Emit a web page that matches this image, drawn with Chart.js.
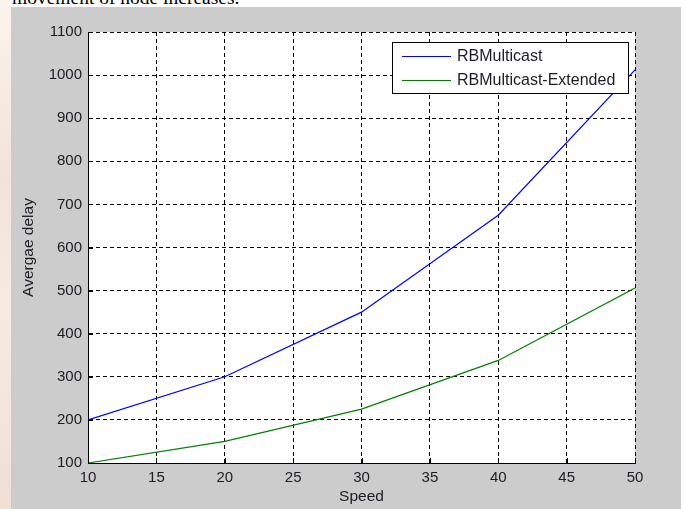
<!DOCTYPE html>
<html>
<head>
<meta charset="utf-8">
<script src="https://cdn.jsdelivr.net/npm/chart.js@4/dist/chart.umd.min.js"></script>
<style>
  body { margin: 0; background: #fff; width: 686px; height: 509px; overflow: hidden; position: relative; }
  #strip { position: absolute; left: 0; top: 0; width: 11px; height: 509px;
           background: linear-gradient(180deg, #fbf4ee 0%, #f2e3d8 35%, #f6ebe2 60%, #f0e0d4 100%); }
  #caption { position: absolute; left: 12px; top: -12px; font-family: "Liberation Serif", "Times New Roman", serif;
             font-size: 19.5px; line-height: 20px; color: #000; white-space: nowrap; }
  #panel { position: absolute; left: 11px; top: 7px; width: 670px; height: 502px; background: #cccccc; }
</style>
</head>
<body>
<div id="strip"></div>
<div id="caption">movement of node increases.</div>
<div id="panel"><canvas id="chart" width="670" height="502"></canvas></div>
<script>
var speeds = [10, 20, 30, 40, 50];
var rbMulticast = [200, 300, 450, 675, 1012];
var rbExtended = [100, 150, 225, 338, 506];
var seriesNames = ["RBMulticast", "RBMulticast-Extended"];
var seriesColors = ["#0000ff", "#008000"];

var textColor = "#1c1c24";
var fontFamily = "'Liberation Sans', Arial, sans-serif";

var toPoints = function(ys) {
    return speeds.map(function(x, i) { return {x: x, y: ys[i]}; });
};

// plain numbers, no thousands separator
var plainTick = function(v) { return String(v); };

// white plot area on the grey figure
var areaBg = {
    id: 'areaBg',
    beforeDraw: function(chart) {
        var a = chart.chartArea, ctx = chart.ctx;
        ctx.save();
        ctx.fillStyle = '#ffffff';
        ctx.fillRect(a.left, a.top, a.right - a.left, a.bottom - a.top);
        ctx.restore();
    }
};

// inward tick marks like matlab
var innerTicks = {
    id: 'innerTicks',
    afterDatasetsDraw: function(chart) {
        var ctx = chart.ctx, a = chart.chartArea;
        var xs = chart.scales.x, ys = chart.scales.y;
        ctx.save();
        ctx.strokeStyle = '#000';
        ctx.lineWidth = 1;
        ctx.beginPath();
        xs.ticks.forEach(function(t) {
            var px = Math.round(xs.getPixelForValue(t.value)) + 0.5;
            ctx.moveTo(px, a.bottom);
            ctx.lineTo(px, a.bottom - 5);
        });
        ys.ticks.forEach(function(t) {
            var py = Math.round(ys.getPixelForValue(t.value)) + 0.5;
            ctx.moveTo(a.left, py);
            ctx.lineTo(a.left + 5, py);
        });
        ctx.stroke();
        ctx.restore();
    }
};

// boxed legend in the upper right corner of the axes
var boxLegend = {
    id: 'boxLegend',
    afterDraw: function(chart) {
        var ctx = chart.ctx, a = chart.chartArea;
        var w = 237, h = 52;
        var x0 = a.right - 6 - w, y0 = a.top + 10;
        ctx.save();
        ctx.fillStyle = '#fff';
        ctx.fillRect(x0, y0, w, h);
        ctx.strokeStyle = '#000';
        ctx.lineWidth = 1;
        ctx.strokeRect(x0 + 0.5, y0 + 0.5, w - 1, h - 1);
        ctx.font = "16px " + fontFamily;
        ctx.textBaseline = 'middle';
        ctx.fillStyle = textColor;
        chart.data.datasets.forEach(function(ds, i) {
            var cy = y0 + 14 + i * 24;
            ctx.strokeStyle = ds.borderColor;
            ctx.beginPath();
            ctx.moveTo(x0 + 10, cy + 0.5);
            ctx.lineTo(x0 + 59, cy + 0.5);
            ctx.stroke();
            ctx.fillText(ds.label, x0 + 65, cy + 1);
        });
        ctx.restore();
    }
};

var config = {
    type: 'line',
    data: {
        datasets: [{
            label: seriesNames[0],
            data: toPoints(rbMulticast),
            borderColor: seriesColors[0],
            borderWidth: 1.2,
            pointRadius: 0,
            tension: 0,
            fill: false
        }, {
            label: seriesNames[1],
            data: toPoints(rbExtended),
            borderColor: seriesColors[1],
            borderWidth: 1.2,
            pointRadius: 0,
            tension: 0,
            fill: false
        }]
    },
    options: {
        responsive: false,
        animation: false,
        layout: { padding: { left: 0, top: 25, right: 46, bottom: 0 } },
        plugins: {
            legend: { display: false },
            tooltip: { enabled: false }
        },
        scales: {
            x: {
                type: 'linear',
                min: 10,
                max: 50,
                afterFit: function(s) { s.height = 46; },
                ticks: { stepSize: 5, padding: 6, color: textColor, callback: plainTick,
                         font: { family: fontFamily, size: 15 } },
                grid: { color: '#000', lineWidth: 1, drawTicks: false },
                border: { display: true, color: '#000', width: 1, dash: [4, 3] },
                title: { display: true, text: 'Speed', color: textColor, padding: { top: 0, bottom: 3 },
                         font: { family: fontFamily, size: 15.5 } }
            },
            y: {
                min: 100,
                max: 1100,
                afterFit: function(s) { s.width = 77; },
                ticks: { stepSize: 100, padding: 6, color: textColor, callback: plainTick,
                         font: { family: fontFamily, size: 15 } },
                grid: { color: '#000', lineWidth: 1, drawTicks: false },
                border: { display: true, color: '#000', width: 1, dash: [4, 3] },
                title: { display: true, text: 'Avergae delay', color: textColor, padding: { top: 8, bottom: 0 },
                         font: { family: fontFamily, size: 15.5 } }
            }
        }
    },
    plugins: [areaBg, innerTicks, boxLegend]
};

window.onload = function() {
    new Chart(document.getElementById("chart"), config);
};
</script>
</body>
</html>
